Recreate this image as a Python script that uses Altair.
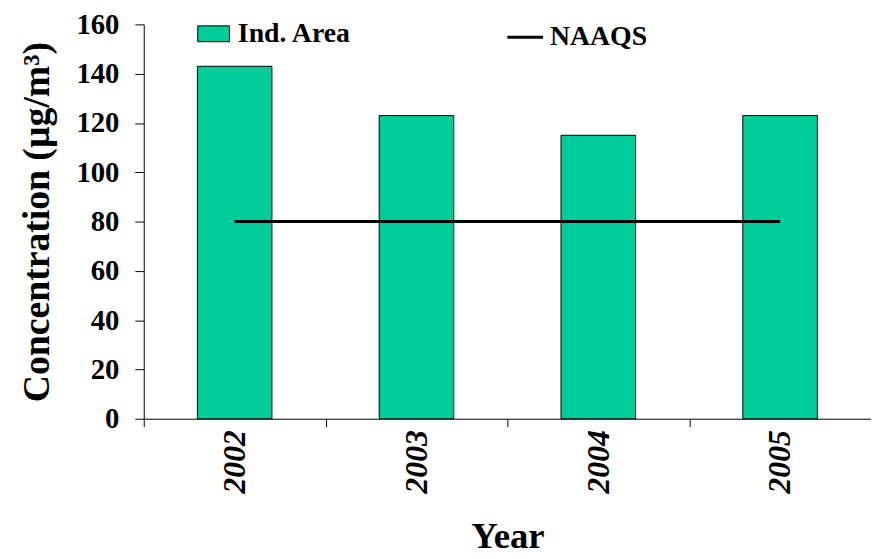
import altair as alt
import pandas as pd

years = ["2002", "2003", "2004", "2005"]
ind_area = [143, 123, 115, 123]
naaqs = [80, 80, 80, 80]
y_ticks = [0, 20, 40, 60, 80, 100, 120, 140, 160]

bars_df = pd.DataFrame({"Year": years, "value": ind_area, "series": ["Ind. Area"] * 4})
line_df = pd.DataFrame({"Year": years, "value": naaqs, "series": ["NAAQS"] * 4})

FONT = "Liberation Serif"

x_axis = alt.Axis(
    title="Year",
    labelAngle=270,
    labelFont=FONT,
    labelFontStyle="italic",
    labelFontWeight="bold",
    labelFontSize=32,
    labelColor="black",
    labelPadding=3,
    tickBand="extent",
    tickSize=8,
    tickColor="black",
    domainColor="black",
    titleFont=FONT,
    titleFontWeight="bold",
    titleFontSize=37,
    titleColor="black",
    titlePadding=26,
)

y_axis = alt.Axis(
    title="Concentration (µg/m³)",
    values=y_ticks,
    grid=False,
    labelFont=FONT,
    labelFontWeight="bold",
    labelFontSize=29,
    labelColor="black",
    labelPadding=16,
    tickSize=9,
    tickColor="black",
    domainColor="black",
    titleFont=FONT,
    titleFontWeight="bold",
    titleFontSize=38,
    titleColor="black",
    titlePadding=20,
)

x_scale = alt.Scale(domain=years, paddingInner=0, paddingOuter=0)
y_scale = alt.Scale(domain=[0, 160], nice=False)

bars = alt.Chart(bars_df).mark_bar(
    stroke="black", strokeWidth=1, width=alt.RelativeBandSize(0.41)
).encode(
    x=alt.X("Year:N", scale=x_scale, axis=x_axis),
    y=alt.Y("value:Q", scale=y_scale, axis=y_axis),
    fill=alt.Fill(
        "series:N",
        scale=alt.Scale(domain=["Ind. Area"], range=["#00CC99"]),
        legend=alt.Legend(
            title=None,
            orient="none",
            legendX=54,
            legendY=-7,
            padding=0,
            symbolType="M-1,-0.5H1V0.5H-1Z",
            symbolSize=1024,
            symbolStrokeColor="black",
            symbolStrokeWidth=1,
            labelOffset=8,
            labelFont=FONT,
            labelFontSize=28,
            labelFontWeight="bold",
            labelColor="black",
            labelLimit=400,
        ),
    ),
)

line = alt.Chart(line_df).mark_line(strokeWidth=3).encode(
    x=alt.X("Year:N", scale=x_scale, axis=x_axis),
    y=alt.Y("value:Q", scale=y_scale, axis=y_axis),
    stroke=alt.Stroke(
        "series:N",
        scale=alt.Scale(domain=["NAAQS"], range=["black"]),
        legend=alt.Legend(
            title=None,
            orient="none",
            legendX=365,
            legendY=-7,
            padding=0,
            symbolType="stroke",
            symbolSize=1300,
            symbolStrokeWidth=3,
            labelOffset=5,
            labelFont=FONT,
            labelFontSize=28,
            labelFontWeight="bold",
            labelColor="black",
            labelLimit=400,
        ),
    ),
)

chart = (
    alt.layer(bars, line)
    .resolve_legend(fill="independent", stroke="independent")
    .properties(
        width=734,
        height=398,
        autosize=alt.AutoSizeParams(type="none"),
        padding={"left": 137, "top": 14, "right": 0, "bottom": 135},
    )
    .configure_view(stroke=None)
)

chart.save("out.html", embed_options={"renderer": "svg", "actions": False})
